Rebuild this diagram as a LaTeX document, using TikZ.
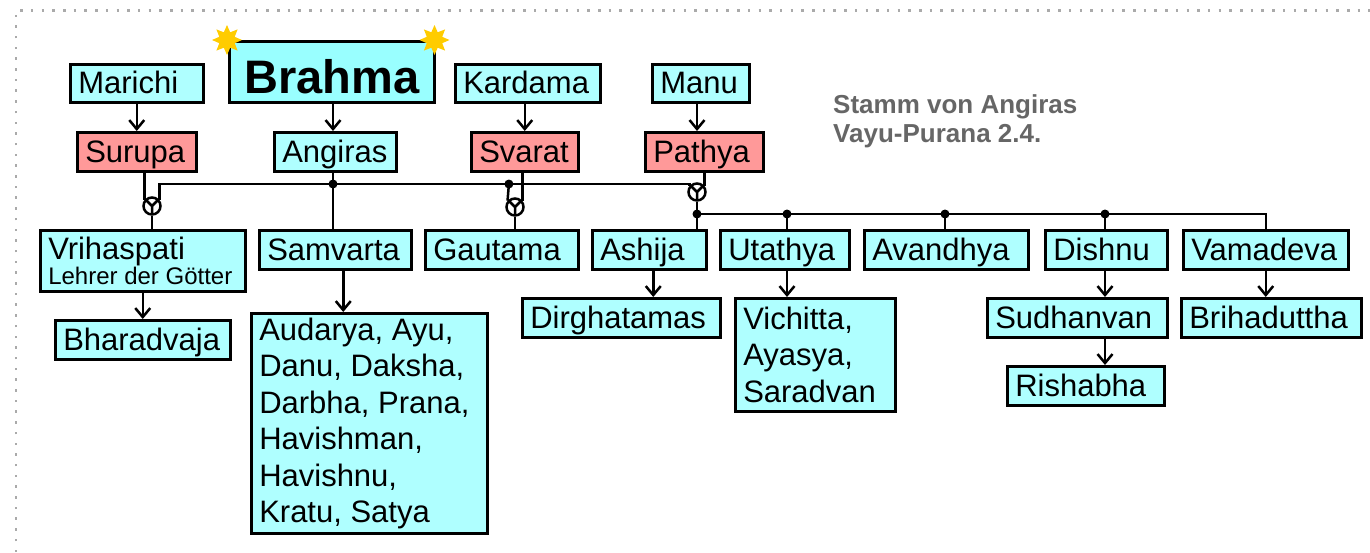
\documentclass[tikz,border=0pt]{standalone}
\usepackage{fontspec}
\setmainfont{Liberation Sans}
\usetikzlibrary{shapes.geometric,arrows.meta}
\definecolor{cya}{HTML}{AFFFFF}
\definecolor{cyb}{HTML}{99FFFF}
\definecolor{redb}{HTML}{FF9999}
\definecolor{starc}{HTML}{FFCC00}
\definecolor{ttl}{HTML}{666666}
\definecolor{brd}{HTML}{AAAAAA}
\begin{document}
\begin{tikzpicture}[x=1pt,y=-1pt,
  bx/.style={draw=black, line width=2.5pt, fill=cya, anchor=north west, inner xsep=8pt, inner ysep=0pt, align=flush left, font=\fontsize{31}{36.5}\selectfont},
  one/.style={text height=21pt, text depth=0pt, minimum height=39pt},
  rd/.style={fill=redb},
  conn/.style={line width=2.5pt},
  arr/.style={line width=2.5pt, -{Straight Barb[length=9pt,width=15pt]}},
  msym/.style={circle, draw=black, line width=2.5pt, minimum size=17pt, inner sep=0pt, fill=white,
    path picture={\draw[line width=2.5pt] (path picture bounding box.center) -- ++(0,12)
      (path picture bounding box.center) -- ++(-10,-10)
      (path picture bounding box.center) -- ++(10,-10);}},
  sun/.style={star, star points=8, star point ratio=1.8, fill=starc, minimum size=30pt, inner sep=0pt}
]
\useasboundingbox (0,0) rectangle (1370,552);
% page border
\draw[brd, line width=2.5pt, dash pattern=on 2.5pt off 8.2pt] (16,552) -- (16,10.5) -- (1370,10.5);

% top row
\node[bx, one, minimum width=133pt, minimum height=38pt, text width=117pt] (mar) at (69,63) {Marichi};
\node[bx, fill=cyb, minimum width=205pt, minimum height=61pt, text width=189pt, align=center,
      font=\bfseries\fontsize{47}{50}\selectfont, text height=44pt, text depth=0pt] (bra) at (228,40) {Brahma};
\node[bx, one, minimum width=145pt, minimum height=38pt, text width=129pt] (kar) at (454,63) {Kardama};
\node[bx, one, minimum width=97pt, minimum height=38pt, text width=81pt] (man) at (651,63) {Manu};
\node[sun] (s1) at ([xshift=-1pt]bra.north west) {};
\node[sun] (s2) at ([xshift=-1pt]bra.north east) {};

% second row
\node[bx, one, rd, minimum width=119pt, text width=103pt] (sur) at (76,131) {Surupa};
\node[bx, one, minimum width=122pt, text width=106pt] (ang) at (273,131) {Angiras};
\node[bx, one, rd, minimum width=107pt, text width=91pt] (sva) at (470,131) {Svarat};
\node[bx, one, rd, minimum width=118pt, text width=102pt] (pat) at (644,131) {Pathya};

% title
\node[anchor=north west, inner sep=0pt, align=left, text=ttl, font=\bfseries\fontsize{26}{29.5}\selectfont] (title) at (833,94) {Stamm von Angiras\\Vayu-Purana 2.4.};

% third row
\node[bx, minimum width=205pt, minimum height=61pt, text width=189pt, font=\fontsize{31}{25}\selectfont] (vri) at (39,229) {Vrihaspati\\\mbox{\fontsize{24}{25}\selectfont Lehrer der Götter}};
\node[bx, one, minimum width=152pt, text width=136pt] (sam) at (258,229) {Samvarta};
\node[bx, one, minimum width=153pt, text width=137pt] (gau) at (424,229) {Gautama};
\node[bx, one, minimum width=114pt, text width=98pt] (ash) at (591,229) {Ashija};
\node[bx, one, minimum width=129pt, text width=113pt] (uta) at (719,229) {Utathya};
\node[bx, one, minimum width=164pt, text width=148pt] (ava) at (863,229) {Avandhya};
\node[bx, one, minimum width=122pt, text width=106pt] (dis) at (1044,229) {Dishnu};
\node[bx, one, minimum width=165pt, text width=149pt] (vam) at (1182,229) {Vamadeva};

% fourth row
\node[bx, one, minimum width=175pt, text width=159pt] (bha) at (54,319) {Bharadvaja};
\node[bx, minimum width=236pt, minimum height=220pt, text width=220pt] (aud) at (250,312) {Audarya, Ayu,\\Danu, Daksha,\\Darbha, Prana,\\Havishman,\\Havishnu,\\Kratu, Satya};
\node[bx, one, minimum width=198pt, text width=182pt] (dir) at (521,297) {Dirghatamas};
\node[bx, minimum width=160pt, minimum height=113pt, text width=144pt] (vic) at (734,297) {Vichitta,\\Ayasya,\\Saradvan};
\node[bx, one, minimum width=180pt, text width=164pt] (sud) at (986,297) {Sudhanvan};
\node[bx, one, minimum width=180pt, text width=164pt] (bri) at (1180,297) {Brihaduttha};
\node[bx, one, minimum width=157pt, text width=141pt] (ris) at (1006,365) {Rishabha};

% marriage symbols
\node[msym] (m1) at (152,206) {};
\node[msym] (m2) at (515,207) {};
\node[msym] (m3) at (697,192) {};

% junctions
\coordinate (j1) at (333,184);
\coordinate (jg) at (508.9,184);
\coordinate (j2) at (697,214);
\coordinate (ju) at (787,214);
\coordinate (jv) at (945,214);
\coordinate (jd) at (1105,214);

% arrows from parents
\draw[arr] (mar.south) -- (sur.north);
\draw[arr] (bra.south -| j1) -- (ang.north -| j1);
\draw[arr] (kar.south -| sva.north) -- (sva.north);
\draw[arr] (man.south -| m3) -- (pat.north -| m3);

% marriages
\draw[conn] (sur.south -| m1.140) -- (m1.140);
\draw[conn] (sva.south -| m2.40) -- (m2.40);
\draw[conn] (pat.south -| m3.40) -- (m3.40);
\draw[conn] (ang.south -| j1) -- (sam.north -| j1);
\draw[conn] (m1.40) -- (m1.40 |- j1) -- (m3.140 |- j1) -- (m3.140);
\draw[conn] (jg) -- (m2.140);
\draw[conn] (m1.south) -- (m1.south |- vri.north);
\draw[conn] (m2.south) -- (m2.south |- gau.north);
\draw[conn] (m3.south) -- (m3.south |- ash.north);
\draw[conn] (j2) -- (j2 -| vam.north) -- (vam.north);
\draw[conn] (ju) -- (ju |- uta.north);
\draw[conn] (jv) -- (jv |- ava.north);
\draw[conn] (jd) -- (jd |- dis.north);
\fill (j1) circle (4.5pt);
\fill (jg) circle (4.5pt);
\fill (j2) circle (4.5pt);
\fill (ju) circle (4.5pt);
\fill (jv) circle (4.5pt);
\fill (jd) circle (4.5pt);

% descendants
\draw[arr] (bha.north |- vri.south) -- (bha.north);
\draw[arr] ([xshift=8pt]sam.south) -- ([xshift=8pt]sam.south |- aud.north);
\draw[arr] ([xshift=4pt]ash.south) -- ([xshift=4pt]ash.south |- dir.north);
\draw[arr] (ju |- uta.south) -- (ju |- vic.north);
\draw[arr] (jd |- dis.south) -- (jd |- sud.north);
\draw[arr] (jd |- sud.south) -- (jd |- ris.north);
\draw[arr] (vam.south) -- (vam.south |- bri.north);
\end{tikzpicture}
\end{document}
